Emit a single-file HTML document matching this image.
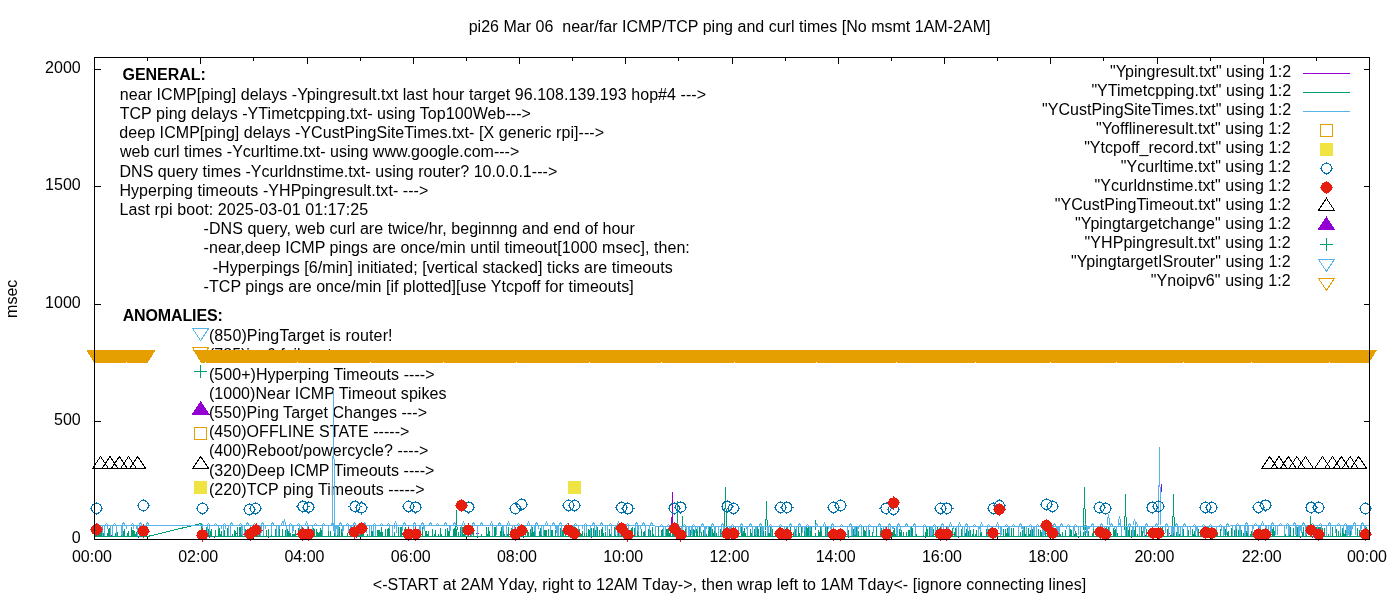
<!DOCTYPE html>
<html><head><meta charset="utf-8"><style>html,body{margin:0;padding:0;background:#fff;overflow:hidden}svg{display:block;will-change:transform}text{font-family:"Liberation Sans",sans-serif}</style></head>
<body>
<svg width="1400" height="600" viewBox="0 0 1400 600">
<rect width="1400" height="600" fill="#fff"/>
<g font-family="Liberation Sans, sans-serif" font-size="16" fill="#000">
<text x="468.65" y="32" xml:space="preserve" textLength="521.77" lengthAdjust="spacing">pi26 Mar 06  near/far ICMP/TCP ping and curl times [No msmt 1AM-2AM]</text>
<text x="122.56" y="80" font-weight="bold" textLength="83.17" lengthAdjust="spacing">GENERAL:</text>
<text x="119.78" y="99.7" textLength="586.2" lengthAdjust="spacing">near ICMP[ping] delays -Ypingresult.txt last hour target 96.108.139.193 hop#4 ---&gt;</text>
<text x="119.66" y="118.9" textLength="411.29" lengthAdjust="spacing">TCP ping delays -YTimetcpping.txt- using Top100Web---&gt;</text>
<text x="119.28" y="138.1" textLength="484.79" lengthAdjust="spacing">deep ICMP[ping] delays -YCustPingSiteTimes.txt- [X generic rpi]---&gt;</text>
<text x="119.97" y="157.3" textLength="399.28" lengthAdjust="spacing">web curl times -Ycurltime.txt- using www.google.com---&gt;</text>
<text x="119.45" y="176.5" textLength="437.8" lengthAdjust="spacing">DNS query times -Ycurldnstime.txt- using router? 10.0.0.1---&gt;</text>
<text x="119.45" y="195.7" textLength="308.85" lengthAdjust="spacing">Hyperping timeouts -YHPpingresult.txt- ---&gt;</text>
<text x="119.45" y="214.9" textLength="248.76" lengthAdjust="spacing">Last rpi boot: 2025-03-01 01:17:25</text>
<text x="203.6" y="234.1" textLength="431.14" lengthAdjust="spacing">-DNS query, web curl are twice/hr, beginnng and end of hour</text>
<text x="203.6" y="253.3" textLength="486.22" lengthAdjust="spacing">-near,deep ICMP pings are once/min until timeout[1000 msec], then:</text>
<text x="212.72" y="272.5" textLength="460.1" lengthAdjust="spacing">-Hyperpings [6/min] initiated; [vertical stacked] ticks are timeouts</text>
<text x="203.6" y="291.7" textLength="430.15" lengthAdjust="spacing">-TCP pings are once/min [if plotted][use Ytcpoff for timeouts]</text>
<text x="122.7" y="320.6" font-weight="bold" textLength="100.08" lengthAdjust="spacing">ANOMALIES:</text>
<text x="208.89" y="341.1" textLength="183.64" lengthAdjust="spacing">(850)PingTarget is router!</text>
<text x="209" y="360.3">(785)ipv6 fail: not ----&gt;</text>
<text x="208.89" y="379.5" textLength="225.6" lengthAdjust="spacing">(500+)Hyperping Timeouts ----&gt;</text>
<text x="208.89" y="398.7" textLength="237.52" lengthAdjust="spacing">(1000)Near ICMP Timeout spikes</text>
<text x="208.89" y="417.9" textLength="218.1" lengthAdjust="spacing">(550)Ping Target Changes ---&gt;</text>
<text x="208.89" y="437.1" textLength="200.53" lengthAdjust="spacing">(450)OFFLINE STATE -----&gt;</text>
<text x="208.89" y="456.3" textLength="219.54" lengthAdjust="spacing">(400)Reboot/powercycle? ----&gt;</text>
<text x="208.89" y="475.5" textLength="225.48" lengthAdjust="spacing">(320)Deep ICMP Timeouts ----&gt;</text>
<text x="208.89" y="494.7" textLength="215.71" lengthAdjust="spacing">(220)TCP ping Timeouts -----&gt;</text>
<text x="80.7" y="72.7" text-anchor="end">2000</text>
<text x="80.7" y="189.7" text-anchor="end">1500</text>
<text x="80.7" y="307.7" text-anchor="end">1000</text>
<text x="80.7" y="424.7" text-anchor="end">500</text>
<text x="80.7" y="542.7" text-anchor="end">0</text>
<text x="92.0" y="562" text-anchor="middle">00:00</text>
<text x="198.25" y="562" text-anchor="middle">02:00</text>
<text x="304.5" y="562" text-anchor="middle">04:00</text>
<text x="410.75" y="562" text-anchor="middle">06:00</text>
<text x="517.0" y="562" text-anchor="middle">08:00</text>
<text x="623.25" y="562" text-anchor="middle">10:00</text>
<text x="729.5" y="562" text-anchor="middle">12:00</text>
<text x="835.75" y="562" text-anchor="middle">14:00</text>
<text x="942.0" y="562" text-anchor="middle">16:00</text>
<text x="1048.25" y="562" text-anchor="middle">18:00</text>
<text x="1154.5" y="562" text-anchor="middle">20:00</text>
<text x="1261.75" y="562" text-anchor="middle">22:00</text>
<text x="1367.0" y="562" text-anchor="middle">00:00</text>
<text transform="translate(16.6,298.8) rotate(-90)" text-anchor="middle">msec</text>
<text x="372.78" y="589.7" textLength="713.35" lengthAdjust="spacing">&lt;-START at 2AM Yday, right to 12AM Tday-&gt;, then wrap left to 1AM Tday&lt;- [ignore connecting lines]</text>
</g>
<g font-family="Liberation Sans, sans-serif" font-size="16" fill="#000">
<text x="1291.08" y="77.2" text-anchor="end" textLength="181.13" lengthAdjust="spacing">"Ypingresult.txt" using 1:2</text>
<text x="1291.08" y="96.2" text-anchor="end" textLength="199.7" lengthAdjust="spacing">"YTimetcpping.txt" using 1:2</text>
<text x="1291.08" y="115.2" text-anchor="end" textLength="249.04" lengthAdjust="spacing">"YCustPingSiteTimes.txt" using 1:2</text>
<text x="1290.73" y="134.2" text-anchor="end" textLength="194.74" lengthAdjust="spacing">"Yofflineresult.txt" using 1:2</text>
<text x="1290.73" y="153.2" text-anchor="end" textLength="206.57" lengthAdjust="spacing">"Ytcpoff_record.txt" using 1:2</text>
<text x="1290.73" y="172.2" text-anchor="end" textLength="170.02" lengthAdjust="spacing">"Ycurltime.txt" using 1:2</text>
<text x="1290.73" y="191.2" text-anchor="end" textLength="196.16" lengthAdjust="spacing">"Ycurldnstime.txt" using 1:2</text>
<text x="1290.73" y="210.2" text-anchor="end" textLength="235.92" lengthAdjust="spacing">"YCustPingTimeout.txt" using 1:2</text>
<text x="1290.73" y="229.2" text-anchor="end" textLength="215.62" lengthAdjust="spacing">"Ypingtargetchange" using 1:2</text>
<text x="1290.73" y="248.2" text-anchor="end" textLength="206.16" lengthAdjust="spacing">"YHPpingresult.txt" using 1:2</text>
<text x="1290.73" y="267.2" text-anchor="end" textLength="219.66" lengthAdjust="spacing">"YpingtargetISrouter" using 1:2</text>
<text x="1290.73" y="286.2" text-anchor="end" textLength="140.01" lengthAdjust="spacing">"Ynoipv6" using 1:2</text>
</g>
<g shape-rendering="crispEdges">
<path d="M94.5 69.5h6M1369.5 69.5h-6M94.5 186.5h6M1369.5 186.5h-6M94.5 304.5h6M1369.5 304.5h-6M94.5 421.5h6M1369.5 421.5h-6M147.5 539.5v-3M147.5 57.5v3M200.5 539.5v-6M200.5 57.5v6M253.5 539.5v-3M253.5 57.5v3M307.5 539.5v-6M307.5 57.5v6M360.5 539.5v-3M360.5 57.5v3M413.5 539.5v-6M413.5 57.5v6M466.5 539.5v-3M466.5 57.5v3M519.5 539.5v-6M519.5 57.5v6M572.5 539.5v-3M572.5 57.5v3M625.5 539.5v-6M625.5 57.5v6M678.5 539.5v-3M678.5 57.5v3M732.5 539.5v-6M732.5 57.5v6M785.5 539.5v-3M785.5 57.5v3M838.5 539.5v-6M838.5 57.5v6M891.5 539.5v-3M891.5 57.5v3M944.5 539.5v-6M944.5 57.5v6M997.5 539.5v-3M997.5 57.5v3M1050.5 539.5v-6M1050.5 57.5v6M1103.5 539.5v-3M1103.5 57.5v3M1157.5 539.5v-6M1157.5 57.5v6M1210.5 539.5v-3M1210.5 57.5v3M1263.5 539.5v-6M1263.5 57.5v6M1316.5 539.5v-3M1316.5 57.5v3" stroke="#000" stroke-width="1" fill="none"/>
<path d="M1303 73.4h47" stroke="#9400d3" stroke-width="1"/><path d="M1303 92.4h47" stroke="#009e73" stroke-width="1"/><path d="M1303 111.4h47" stroke="#56b4e9" stroke-width="1"/><path d="M1320.5 124.4h12v12h-12Z" stroke="#e69f00" fill="none"/><path d="M1320.5 143.4h12v12h-12Z" fill="#f0e442" stroke="#f0e442"/><circle cx="1326.5" cy="168.4" r="5.1" stroke="#0072b2" stroke-width="1.1" fill="none"/><path d="M1319.9 168.4h1.6M1331.5 168.4h1.6M1326.5 161.8v1.6M1326.5 173.4v1.6" stroke="#0072b2"/><circle cx="1326.5" cy="187.4" r="5.6" fill="#e51e10"/><path d="M1319.9 187.4h1.6M1331.5 187.4h1.6M1326.5 180.8v1.6M1326.5 192.4v1.6" stroke="#e51e10"/><path d="M1318.5 210.4L1326.5 198.4L1334.5 210.4Z" stroke="#000" fill="none"/><path d="M1318.5 229.4L1326.5 217.4L1334.5 229.4Z" fill="#9400d3" stroke="#9400d3"/><path d="M1320.0 244.4h13M1326.5 237.9v13" stroke="#009e73"/><path d="M1318.5 259.4L1326.5 271.4L1334.5 259.4Z" stroke="#56b4e9" fill="none"/><path d="M1318.5 278.4L1326.5 290.4L1334.5 278.4Z" stroke="#e69f00" fill="none"/>
<path d="M192.6 328.6L200.6 340.6L208.6 328.6Z" stroke="#56b4e9" fill="none"/><path d="M192.6 347.6L200.6 359.6L208.6 347.6Z" stroke="#e69f00" fill="none"/><path d="M194.1 371.5h13M200.6 365v13" stroke="#009e73"/><path d="M192.6 414L200.6 402L208.6 414Z" fill="#9400d3" stroke="#9400d3"/><path d="M194.6 427.4h12v12h-12Z" stroke="#e69f00" fill="none"/><path d="M192.6 468.5L200.6 456.5L208.6 468.5Z" stroke="#000" fill="none"/><path d="M194.6 481.3h12v12h-12Z" fill="#f0e442" stroke="#f0e442"/><path d="M568.4 481.5h12v12h-12Z" fill="#f0e442" stroke="#f0e442"/>
<path d="M236 533h1v1h-1zM1227 536h1v1h-1zM939 537h1v1h-1zM394 533h1v1h-1zM1080 533h1v1h-1zM999 536h1v1h-1zM1139 536h1v1h-1zM857 536h1v1h-1zM1078 537h1v1h-1zM1131 537h1v1h-1zM204 535h1v1h-1zM848 537h1v1h-1zM111 535h1v1h-1zM1095 536h1v1h-1zM209 537h1v1h-1zM285 533h1v1h-1zM958 537h1v1h-1zM1109 537h1v1h-1zM356 537h1v1h-1zM968 536h1v1h-1zM1363 535h1v1h-1zM145 533h1v1h-1zM1086 536h1v1h-1zM1051 536h1v1h-1zM350 536h1v1h-1zM1170 535h1v1h-1zM214 537h1v1h-1zM837 535h1v1h-1zM951 535h1v1h-1zM268 537h1v1h-1zM1245 535h1v1h-1zM1153 533h1v1h-1zM306 535h1v1h-1zM1144 533h1v1h-1zM476 533h1v1h-1zM772 536h1v1h-1zM1050 537h1v1h-1zM402 533h1v1h-1zM678 537h1v1h-1zM1211 533h1v1h-1zM1249 536h1v1h-1zM594 535h1v1h-1zM1104 537h1v1h-1zM1145 535h1v1h-1zM1300 537h1v1h-1zM925 537h1v1h-1zM939 535h1v1h-1zM1103 536h1v1h-1zM478 533h1v1h-1zM118 536h1v1h-1zM1211 535h1v1h-1zM628 533h1v1h-1zM477 537h1v1h-1zM523 537h1v1h-1zM202 535h1v1h-1zM1169 533h1v1h-1zM138 537h1v1h-1zM209 537h1v1h-1zM335 535h1v1h-1zM614 533h1v1h-1zM1121 536h1v1h-1zM372 536h1v1h-1zM574 537h1v1h-1zM591 537h1v1h-1zM1312 537h1v1h-1zM309 537h1v1h-1zM1226 533h1v1h-1zM1216 535h1v1h-1z" fill="#9400d3"/>
<path d="M671.90 530L672.5 492L673.10 530" stroke="#9400d3" fill="none" stroke-linejoin="bevel"/><path d="M671.00 530L671.5 517L672.00 530" stroke="#9400d3" fill="none" stroke-linejoin="bevel"/><path d="M1161.20 492L1161.5 484L1161.80 492" stroke="#9400d3" fill="none" stroke-linejoin="bevel"/>
<path d="M94.5 536.5H147.5L201 523.5V536.5H1369.5M95.5 536V528M96.5 536V527M97.5 536V532M98.5 536V533M99.5 536V532M100.5 536V527M101.5 536V527M102.5 536V532M103.5 536V533M104.5 536V529M107.5 536V533M108.5 536V529M109.5 536V528M110.5 536V528M115.5 536V533M117.5 536V532M121.5 536V532M122.5 536V530M123.5 536V531M124.5 536V529M127.5 536V533M128.5 536V531M131.5 536V527M132.5 536V530M133.5 536V530M134.5 536V531M135.5 536V534M136.5 536V532M139.5 536V530M142.5 536V527M144.5 536V534M145.5 536V529M202.5 536V530M204.5 536V531M205.5 536V533M206.5 536V527M207.5 536V529M208.5 536V529M209.5 536V531M210.5 536V531M211.5 536V529M215.5 536V530M218.5 536V529M219.5 536V528M220.5 536V534M221.5 536V531M223.5 536V529M224.5 536V530M227.5 536V528M232.5 536V534M234.5 536V530M235.5 536V531M237.5 536V527M239.5 536V527M240.5 536V527M241.5 536V533M242.5 536V527M245.5 536V529M247.5 536V529M250.5 536V527M253.5 536V531M254.5 536V528M255.5 536V530M257.5 536V528M259.5 536V532M260.5 536V532M263.5 536V534M266.5 536V530M268.5 536V529M271.5 536V529M275.5 536V529M278.5 536V532M279.5 536V527M282.5 536V529M285.5 536V530M287.5 536V529M288.5 536V531M289.5 536V529M290.5 536V533M292.5 536V534M293.5 536V534M294.5 536V534M295.5 536V530M298.5 536V528M299.5 536V534M300.5 536V530M301.5 536V527M303.5 536V528M304.5 536V533M307.5 536V533M310.5 536V532M312.5 536V534M313.5 536V528M314.5 536V529M316.5 536V529M317.5 536V532M318.5 536V533M319.5 536V532M320.5 536V528M321.5 536V530M328.5 536V528M330.5 536V531M334.5 536V528M335.5 536V527M337.5 536V532M339.5 536V527M341.5 536V529M342.5 536V527M347.5 536V533M350.5 536V529M351.5 536V532M354.5 536V532M357.5 536V532M359.5 536V531M360.5 536V527M361.5 536V530M362.5 536V529M363.5 536V529M367.5 536V534M369.5 536V528M371.5 536V527M372.5 536V531M373.5 536V534M375.5 536V530M377.5 536V530M378.5 536V530M379.5 536V530M380.5 536V532M381.5 536V527M382.5 536V532M385.5 536V529M387.5 536V529M388.5 536V528M389.5 536V528M394.5 536V532M398.5 536V527M400.5 536V527M401.5 536V527M404.5 536V529M405.5 536V527M406.5 536V530M408.5 536V529M410.5 536V529M413.5 536V528M414.5 536V529M417.5 536V531M419.5 536V530M422.5 536V527M425.5 536V531M426.5 536V531M427.5 536V534M428.5 536V531M432.5 536V529M434.5 536V534M435.5 536V530M438.5 536V534M440.5 536V528M441.5 536V534M445.5 536V529M447.5 536V528M448.5 536V531M449.5 536V530M453.5 536V529M454.5 536V528M455.5 536V530M456.5 536V529M458.5 536V532M460.5 536V527M461.5 536V533M462.5 536V527M463.5 536V534M464.5 536V533M467.5 536V533M468.5 536V530M470.5 536V529M473.5 536V532M477.5 536V532M481.5 536V534M486.5 536V527M487.5 536V534M488.5 536V527M489.5 536V531M494.5 536V527M495.5 536V527M500.5 536V531M501.5 536V527M503.5 536V529M504.5 536V534M506.5 536V530M507.5 536V534M508.5 536V527M511.5 536V528M512.5 536V534M514.5 536V533M515.5 536V531M516.5 536V529M518.5 536V529M520.5 536V532M521.5 536V531M522.5 536V527M525.5 536V527M527.5 536V531M528.5 536V532M530.5 536V529M531.5 536V529M532.5 536V527M533.5 536V532M534.5 536V530M535.5 536V534M539.5 536V531M540.5 536V528M541.5 536V531M543.5 536V528M544.5 536V530M545.5 536V530M546.5 536V530M548.5 536V529M551.5 536V530M552.5 536V530M555.5 536V530M558.5 536V527M560.5 536V528M561.5 536V529M562.5 536V530M563.5 536V530M565.5 536V527M572.5 536V530M573.5 536V528M575.5 536V527M578.5 536V530M579.5 536V529M580.5 536V534M581.5 536V534M582.5 536V531M584.5 536V528M586.5 536V532M588.5 536V529M589.5 536V530M591.5 536V528M593.5 536V528M594.5 536V527M595.5 536V530M596.5 536V533M597.5 536V527M599.5 536V530M601.5 536V529M602.5 536V527M603.5 536V533M605.5 536V532M609.5 536V529M610.5 536V534M611.5 536V529M614.5 536V527M615.5 536V531M617.5 536V527M618.5 536V532M621.5 536V527M622.5 536V528M629.5 536V532M631.5 536V528M632.5 536V527M634.5 536V528M637.5 536V527M638.5 536V529M641.5 536V529M643.5 536V532M644.5 536V531M645.5 536V530M648.5 536V529M650.5 536V530M652.5 536V527M653.5 536V534M655.5 536V529M658.5 536V527M661.5 536V530M662.5 536V529M665.5 536V529M666.5 536V529M667.5 536V529M668.5 536V529M669.5 536V533M670.5 536V528M672.5 536V534M673.5 536V533M674.5 536V530M675.5 536V527M677.5 536V527M679.5 536V531M685.5 536V528M688.5 536V529M690.5 536V530M692.5 536V527M693.5 536V529M694.5 536V530M696.5 536V529M697.5 536V529M699.5 536V527M701.5 536V532M703.5 536V530M705.5 536V534M706.5 536V534M708.5 536V527M709.5 536V527M710.5 536V527M712.5 536V529M713.5 536V533M714.5 536V530M716.5 536V533M720.5 536V529M721.5 536V531M723.5 536V529M726.5 536V531M727.5 536V529M731.5 536V530M732.5 536V533M733.5 536V529M734.5 536V528M735.5 536V527M737.5 536V532M738.5 536V530M741.5 536V527M742.5 536V530M743.5 536V531M744.5 536V528M745.5 536V533M747.5 536V532M750.5 536V529M751.5 536V533M752.5 536V529M754.5 536V529M755.5 536V529M756.5 536V533M757.5 536V527M758.5 536V529M760.5 536V527M763.5 536V531M765.5 536V531M767.5 536V529M768.5 536V527M769.5 536V533M770.5 536V527M771.5 536V528M772.5 536V529M775.5 536V534M778.5 536V530M779.5 536V527M780.5 536V529M781.5 536V534M785.5 536V530M786.5 536V529M787.5 536V527M790.5 536V527M793.5 536V532M794.5 536V528M795.5 536V529M796.5 536V529M798.5 536V527M799.5 536V533M801.5 536V527M804.5 536V529M805.5 536V530M806.5 536V527M807.5 536V528M808.5 536V527M809.5 536V530M810.5 536V528M811.5 536V527M815.5 536V533M818.5 536V530M819.5 536V532M820.5 536V527M821.5 536V531M825.5 536V527M827.5 536V527M830.5 536V533M837.5 536V531M838.5 536V529M839.5 536V532M840.5 536V530M841.5 536V529M844.5 536V532M848.5 536V530M852.5 536V530M853.5 536V529M854.5 536V534M855.5 536V532M856.5 536V527M857.5 536V531M858.5 536V531M861.5 536V528M863.5 536V527M864.5 536V530M865.5 536V531M868.5 536V528M869.5 536V530M872.5 536V532M876.5 536V527M880.5 536V531M881.5 536V528M884.5 536V530M886.5 536V530M888.5 536V531M889.5 536V532M891.5 536V533M892.5 536V532M893.5 536V530M894.5 536V528M895.5 536V534M899.5 536V529M900.5 536V532M901.5 536V530M903.5 536V532M906.5 536V532M908.5 536V530M909.5 536V530M911.5 536V527M912.5 536V528M915.5 536V532M916.5 536V534M923.5 536V529M925.5 536V532M926.5 536V527M927.5 536V529M929.5 536V527M930.5 536V530M931.5 536V532M932.5 536V529M933.5 536V529M935.5 536V533M937.5 536V527M939.5 536V528M940.5 536V527M944.5 536V529M946.5 536V532M952.5 536V528M954.5 536V532M955.5 536V528M956.5 536V527M958.5 536V533M961.5 536V529M965.5 536V533M966.5 536V529M967.5 536V534M968.5 536V531M970.5 536V530M972.5 536V534M973.5 536V529M975.5 536V534M976.5 536V530M980.5 536V527M981.5 536V532M986.5 536V529M987.5 536V532M988.5 536V529M991.5 536V528M993.5 536V530M994.5 536V529M995.5 536V534M1000.5 536V532M1003.5 536V529M1005.5 536V529M1006.5 536V533M1007.5 536V528M1008.5 536V527M1009.5 536V533M1011.5 536V528M1013.5 536V528M1018.5 536V533M1020.5 536V532M1022.5 536V530M1023.5 536V529M1024.5 536V527M1025.5 536V534M1026.5 536V534M1028.5 536V528M1029.5 536V534M1030.5 536V530M1031.5 536V529M1032.5 536V529M1034.5 536V530M1038.5 536V529M1040.5 536V530M1041.5 536V532M1043.5 536V527M1045.5 536V527M1047.5 536V530M1048.5 536V529M1049.5 536V527M1050.5 536V531M1051.5 536V528M1057.5 536V529M1059.5 536V528M1060.5 536V534M1062.5 536V532M1065.5 536V530M1069.5 536V534M1070.5 536V529M1071.5 536V530M1074.5 536V534M1075.5 536V531M1076.5 536V533M1080.5 536V530M1083.5 536V532M1085.5 536V531M1087.5 536V529M1088.5 536V531M1092.5 536V533M1093.5 536V528M1097.5 536V529M1098.5 536V529M1099.5 536V527M1100.5 536V534M1101.5 536V530M1102.5 536V528M1105.5 536V529M1106.5 536V527M1107.5 536V530M1108.5 536V527M1109.5 536V530M1113.5 536V528M1114.5 536V530M1115.5 536V529M1117.5 536V533M1126.5 536V528M1128.5 536V530M1129.5 536V527M1131.5 536V530M1134.5 536V530M1135.5 536V527M1137.5 536V534M1141.5 536V527M1142.5 536V531M1144.5 536V529M1146.5 536V529M1148.5 536V533M1149.5 536V529M1155.5 536V531M1156.5 536V534M1157.5 536V532M1159.5 536V533M1160.5 536V527M1161.5 536V530M1162.5 536V527M1163.5 536V530M1167.5 536V529M1171.5 536V530M1172.5 536V528M1173.5 536V527M1176.5 536V532M1179.5 536V534M1183.5 536V529M1187.5 536V529M1188.5 536V530M1192.5 536V529M1193.5 536V534M1194.5 536V531M1195.5 536V533M1198.5 536V529M1200.5 536V533M1203.5 536V530M1205.5 536V527M1206.5 536V527M1208.5 536V527M1211.5 536V531M1212.5 536V528M1213.5 536V530M1215.5 536V533M1217.5 536V532M1220.5 536V529M1223.5 536V527M1225.5 536V529M1227.5 536V532M1228.5 536V531M1231.5 536V528M1234.5 536V530M1235.5 536V533M1236.5 536V529M1238.5 536V530M1241.5 536V530M1243.5 536V533M1244.5 536V530M1246.5 536V531M1247.5 536V528M1248.5 536V530M1250.5 536V534M1251.5 536V531M1255.5 536V530M1256.5 536V532M1257.5 536V529M1258.5 536V531M1259.5 536V532M1262.5 536V529M1265.5 536V530M1267.5 536V534M1268.5 536V527M1269.5 536V532M1272.5 536V529M1273.5 536V527M1274.5 536V531M1285.5 536V534M1288.5 536V534M1289.5 536V527M1290.5 536V527M1293.5 536V528M1296.5 536V529M1297.5 536V527M1298.5 536V530M1302.5 536V532M1303.5 536V527M1305.5 536V530M1306.5 536V527M1311.5 536V530M1313.5 536V531M1314.5 536V528M1316.5 536V527M1318.5 536V527M1319.5 536V527M1320.5 536V527M1321.5 536V533M1322.5 536V528M1324.5 536V528M1326.5 536V534M1328.5 536V534M1330.5 536V527M1332.5 536V527M1336.5 536V529M1338.5 536V531M1340.5 536V533M1342.5 536V528M1343.5 536V527M1344.5 536V534M1345.5 536V530M1346.5 536V531M1350.5 536V527M1357.5 536V528M1359.5 536V530M1361.5 536V530M1366.5 536V527M1367.5 536V529M1368.5 536V533" stroke="#009e73" stroke-width="1" fill="none"/>
<path d="M676.90 530L677.5 501L678.10 530" stroke="#009e73" fill="none" stroke-linejoin="bevel"/><path d="M682.00 530L682.5 516L683.00 530" stroke="#009e73" fill="none" stroke-linejoin="bevel"/><path d="M724.50 530L725.5 487L726.50 530" stroke="#009e73" fill="none" stroke-linejoin="bevel"/><path d="M765.70 530L766.5 501L767.30 530" stroke="#009e73" fill="none" stroke-linejoin="bevel"/><path d="M815.00 530L815.5 520L816.00 530" stroke="#009e73" fill="none" stroke-linejoin="bevel"/><path d="M1083.50 530L1084.5 487L1085.50 530" stroke="#009e73" fill="none" stroke-linejoin="bevel"/><path d="M1124.70 530L1125.5 494L1126.30 530" stroke="#009e73" fill="none" stroke-linejoin="bevel"/><path d="M1172.70 530L1173.5 494L1174.30 530" stroke="#009e73" fill="none" stroke-linejoin="bevel"/><path d="M455.90 530L456.5 510L457.10 530" stroke="#009e73" fill="none" stroke-linejoin="bevel"/><path d="M1309.90 530L1310.5 516L1311.10 530" stroke="#009e73" fill="none" stroke-linejoin="bevel"/>
<path d="M94.5 525.5H655M655 526.5H1230M1230 525.5H1369.5M96 525.5L97.5 523.5L99 525.5M102.5 525V536M104.5 525V536M105 525.5L106.5 523.5L108 525.5M107.5 525V529M110.5 525V536M112.5 525V536M113 525.5L114.5 523.5L116 525.5M116.5 525V536M121.5 525V535M122.5 525V536M122 525.5L123.5 522.5L125 525.5M126.5 525V529M131 525.5L132.5 523.5L134 525.5M133.5 525V529M136.5 525V529M137.5 525V536M139.5 525V536M139 525.5L140.5 522.5L142 525.5M145.5 525V529M146.5 525V533M146 525.5L147.5 522.5L149 525.5M200 525.5L201.5 523.5L203 525.5M202.5 525V536M207.5 525V536M207 525.5L208.5 523.5L210 525.5M209.5 525V535M214 525.5L215.5 523.5L217 525.5M218.5 525V529M221.5 525V529M223.5 525V536M223 525.5L224.5 523.5L226 525.5M225.5 525V529M228.5 525V536M230.5 525V536M230 525.5L231.5 522.5L233 525.5M239 525.5L240.5 523.5L242 525.5M241.5 525V535M242.5 525V536M244.5 525V536M246 525.5L247.5 522.5L249 525.5M250.5 525V535M253.5 525V535M253 525.5L254.5 523.5L256 525.5M257.5 525V533M258.5 525V536M259.5 525V529M260.5 525V536M261.5 525V533M261 525.5L262.5 522.5L264 525.5M263.5 525V536M265.5 525V529M271.5 525V535M271 525.5L272.5 522.5L274 525.5M276.5 525V536M278.5 525V536M279.5 525V529M281 525.5L282.5 521.5L284 525.5M286.5 525V536M289.5 525V533M289 525.5L290.5 523.5L292 525.5M292.5 525V533M293.5 525V531M297 525.5L298.5 523.5L300 525.5M299.5 525V535M301.5 525V531M305 525.5L306.5 521.5L308 525.5M307.5 525V536M308.5 525V536M312.5 525V533M314 525.5L315.5 523.5L317 525.5M322.5 525V536M322 525.5L323.5 523.5L325 525.5M328.5 525V531M331 525.5L332.5 521.5L334 525.5M333.5 525V531M334.5 525V533M335.5 525V536M336.5 525V529M337.5 525V535M338.5 525V536M339 525.5L340.5 522.5L342 525.5M342.5 525V533M343.5 525V531M346 525.5L347.5 523.5L349 525.5M348.5 525V533M350.5 525V535M351.5 525V536M353.5 525V529M353 525.5L354.5 522.5L356 525.5M357.5 525V529M359.5 525V535M363 525.5L364.5 522.5L366 525.5M366.5 525V533M369.5 525V536M371.5 525V531M373.5 525V536M373 525.5L374.5 523.5L376 525.5M375.5 525V536M380 525.5L381.5 523.5L383 525.5M387 525.5L388.5 523.5L390 525.5M389.5 525V529M392.5 525V536M394.5 525V529M394 525.5L395.5 521.5L397 525.5M396.5 525V533M402.5 525V531M403 525.5L404.5 522.5L406 525.5M408.5 525V536M413.5 525V535M413 525.5L414.5 522.5L416 525.5M415.5 525V536M419.5 525V535M420.5 525V536M421 525.5L422.5 522.5L424 525.5M423.5 525V529M424.5 525V531M429 525.5L430.5 522.5L432 525.5M436 525.5L437.5 523.5L439 525.5M444 525.5L445.5 522.5L447 525.5M449.5 525V531M450.5 525V531M453 525.5L454.5 522.5L456 525.5M461.5 525V536M462 525.5L463.5 521.5L465 525.5M465.5 525V536M467.5 525V536M471.5 525V536M472.5 525V535M472 525.5L473.5 522.5L475 525.5M477.5 525V536M480 525.5L481.5 522.5L483 525.5M490 525.5L491.5 521.5L493 525.5M492.5 525V536M496.5 525V535M498 525.5L499.5 522.5L501 525.5M502.5 525V536M503.5 525V531M506.5 525V536M507 525.5L508.5 521.5L510 525.5M512.5 525V535M514.5 525V531M517 525.5L518.5 523.5L520 525.5M519.5 525V529M520.5 525V529M523.5 525V529M525.5 525V536M527 525.5L528.5 521.5L530 525.5M531.5 525V533M534.5 525V531M535.5 525V536M535 525.5L536.5 522.5L538 525.5M538.5 525V529M541.5 525V535M543.5 525V536M545 525.5L546.5 521.5L548 525.5M550.5 525V536M552 525.5L553.5 522.5L555 525.5M555.5 525V529M556.5 525V533M557.5 525V536M558.5 525V536M559 525.5L560.5 522.5L562 525.5M561.5 525V536M566 525.5L567.5 523.5L569 525.5M568.5 525V533M570.5 525V536M573.5 525V536M574.5 525V531M574 525.5L575.5 523.5L577 525.5M578.5 525V535M582.5 525V529M584.5 525V533M584 525.5L585.5 523.5L587 525.5M586.5 525V533M590.5 525V536M592 525.5L593.5 522.5L595 525.5M594.5 525V536M596.5 525V536M600 525.5L601.5 522.5L603 525.5M605.5 525V531M607.5 525V536M609 525.5L610.5 523.5L612 525.5M611.5 525V536M615.5 525V535M617.5 525V536M617 525.5L618.5 521.5L620 525.5M619.5 525V536M620.5 525V536M621.5 525V536M622.5 525V536M626 525.5L627.5 523.5L629 525.5M628.5 525V536M635.5 525V536M635 525.5L636.5 522.5L638 525.5M637.5 525V531M638.5 525V535M640.5 525V529M642 525.5L643.5 522.5L645 525.5M645.5 525V536M649.5 525V536M650 525.5L651.5 522.5L653 525.5M655.5 526V536M660 526.5L661.5 524.5L663 526.5M663.5 526V536M665.5 526V536M667 526.5L668.5 524.5L670 526.5M676 526.5L677.5 523.5L679 526.5M679.5 526V533M681.5 526V536M682.5 526V533M683 526.5L684.5 524.5L686 526.5M685.5 526V529M686.5 526V536M688.5 526V536M689.5 526V536M691.5 526V535M692.5 526V536M692 526.5L693.5 524.5L695 526.5M695.5 526V533M697.5 526V531M700.5 526V533M701 526.5L702.5 523.5L704 526.5M704.5 526V536M705.5 526V536M706.5 526V529M708.5 526V531M711.5 526V536M711 526.5L712.5 523.5L714 526.5M714.5 526V531M715.5 526V536M718.5 526V536M721.5 526V536M721 526.5L722.5 523.5L724 526.5M723.5 526V536M724.5 526V531M729.5 526V535M730.5 526V529M731.5 526V536M731 526.5L732.5 524.5L734 526.5M738.5 526V536M740.5 526V533M740 526.5L741.5 523.5L743 526.5M742.5 526V533M746.5 526V529M747.5 526V536M749 526.5L750.5 523.5L752 526.5M752.5 526V536M755.5 526V535M756.5 526V536M759 526.5L760.5 523.5L762 526.5M761.5 526V536M762.5 526V536M763.5 526V531M767.5 526V536M768.5 526V533M769 526.5L770.5 524.5L772 526.5M771.5 526V536M779 526.5L780.5 524.5L782 526.5M784.5 526V536M786.5 526V536M789 526.5L790.5 523.5L792 526.5M794.5 526V536M796.5 526V536M798 526.5L799.5 523.5L801 526.5M802.5 526V533M804.5 526V531M805.5 526V536M806 526.5L807.5 524.5L809 526.5M809.5 526V536M810.5 526V531M815 526.5L816.5 523.5L818 526.5M821.5 526V531M823 526.5L824.5 522.5L826 526.5M826.5 526V536M828.5 526V529M830.5 526V529M831.5 526V535M831 526.5L832.5 523.5L834 526.5M833.5 526V533M840 526.5L841.5 524.5L843 526.5M847.5 526V536M849 526.5L850.5 523.5L852 526.5M851.5 526V536M852.5 526V536M854.5 526V535M855.5 526V535M857.5 526V536M858.5 526V529M859 526.5L860.5 524.5L862 526.5M861.5 526V536M866.5 526V536M868.5 526V536M868 526.5L869.5 524.5L871 526.5M873.5 526V533M878 526.5L879.5 523.5L881 526.5M880.5 526V531M883.5 526V533M885.5 526V533M888.5 526V536M888 526.5L889.5 523.5L891 526.5M890.5 526V536M892.5 526V529M893.5 526V529M896.5 526V536M897.5 526V536M897 526.5L898.5 523.5L900 526.5M900.5 526V531M905 526.5L906.5 523.5L908 526.5M910.5 526V536M913 526.5L914.5 523.5L916 526.5M915.5 526V536M923.5 526V535M923 526.5L924.5 524.5L926 526.5M930.5 526V536M931.5 526V536M932.5 526V535M933 526.5L934.5 524.5L936 526.5M935.5 526V536M941.5 526V536M941 526.5L942.5 523.5L944 526.5M943.5 526V536M947.5 526V529M948.5 526V536M949 526.5L950.5 522.5L952 526.5M953.5 526V529M956.5 526V536M958.5 526V536M958 526.5L959.5 522.5L961 526.5M962.5 526V536M964.5 526V536M965 526.5L966.5 523.5L968 526.5M967.5 526V536M969.5 526V536M973 526.5L974.5 524.5L976 526.5M978.5 526V536M979.5 526V529M980.5 526V533M980 526.5L981.5 522.5L983 526.5M987.5 526V536M987 526.5L988.5 524.5L990 526.5M991.5 526V536M996 526.5L997.5 522.5L999 526.5M998.5 526V529M1000.5 526V536M1001.5 526V535M1005 526.5L1006.5 524.5L1008 526.5M1008.5 526V533M1009.5 526V536M1012 526.5L1013.5 524.5L1015 526.5M1018.5 526V536M1019 526.5L1020.5 523.5L1022 526.5M1021.5 526V529M1022.5 526V529M1023.5 526V536M1026.5 526V536M1029 526.5L1030.5 524.5L1032 526.5M1031.5 526V536M1033.5 526V536M1034.5 526V536M1036.5 526V536M1036 526.5L1037.5 524.5L1039 526.5M1042.5 526V536M1043.5 526V536M1044.5 526V535M1044 526.5L1045.5 524.5L1047 526.5M1051.5 526V536M1052.5 526V536M1053.5 526V533M1053 526.5L1054.5 523.5L1056 526.5M1056.5 526V529M1057.5 526V536M1058.5 526V536M1059.5 526V533M1060 526.5L1061.5 523.5L1063 526.5M1066.5 526V529M1067 526.5L1068.5 524.5L1070 526.5M1069.5 526V535M1073.5 526V536M1074.5 526V531M1074 526.5L1075.5 524.5L1077 526.5M1078.5 526V535M1080.5 526V531M1084.5 526V535M1084 526.5L1085.5 524.5L1087 526.5M1086.5 526V533M1087.5 526V536M1088.5 526V529M1089.5 526V529M1091 526.5L1092.5 523.5L1094 526.5M1093.5 526V529M1100 526.5L1101.5 523.5L1103 526.5M1102.5 526V536M1104.5 526V536M1109.5 526V536M1110 526.5L1111.5 523.5L1113 526.5M1114.5 526V529M1116.5 526V536M1118 526.5L1119.5 523.5L1121 526.5M1121.5 526V536M1125.5 526V536M1127.5 526V536M1128 526.5L1129.5 523.5L1131 526.5M1132.5 526V536M1133.5 526V536M1135 526.5L1136.5 522.5L1138 526.5M1139.5 526V536M1143.5 526V533M1144.5 526V536M1145.5 526V529M1145 526.5L1146.5 523.5L1148 526.5M1155 526.5L1156.5 523.5L1158 526.5M1158.5 526V536M1165.5 526V533M1165 526.5L1166.5 523.5L1168 526.5M1168.5 526V536M1171.5 526V535M1172.5 526V536M1173.5 526V533M1174.5 526V536M1175 526.5L1176.5 523.5L1178 526.5M1177.5 526V536M1178.5 526V536M1180.5 526V536M1182.5 526V536M1183 526.5L1184.5 523.5L1186 526.5M1187.5 526V536M1190.5 526V535M1193 526.5L1194.5 524.5L1196 526.5M1195.5 526V535M1196.5 526V531M1197.5 526V536M1202 526.5L1203.5 524.5L1205 526.5M1209 526.5L1210.5 524.5L1212 526.5M1212.5 526V529M1216.5 526V536M1219 526.5L1220.5 524.5L1222 526.5M1221.5 526V531M1223.5 526V536M1224.5 526V535M1226.5 526V535M1226 526.5L1227.5 523.5L1229 526.5M1232.5 525V536M1235.5 525V536M1236.5 525V529M1236 525.5L1237.5 523.5L1239 525.5M1239.5 525V536M1240.5 525V536M1244.5 525V536M1245.5 525V536M1245 525.5L1246.5 522.5L1248 525.5M1247.5 525V533M1248.5 525V536M1252.5 525V536M1253.5 525V529M1254 525.5L1255.5 523.5L1257 525.5M1258.5 525V536M1259.5 525V536M1260.5 525V535M1261 525.5L1262.5 521.5L1264 525.5M1265.5 525V535M1266.5 525V536M1268.5 525V533M1270.5 525V536M1271.5 525V533M1271 525.5L1272.5 522.5L1274 525.5M1275.5 525V535M1277.5 525V535M1279 525.5L1280.5 523.5L1282 525.5M1284.5 525V536M1286.5 525V529M1286 525.5L1287.5 523.5L1289 525.5M1288.5 525V536M1289.5 525V535M1293 525.5L1294.5 522.5L1296 525.5M1295.5 525V535M1296.5 525V535M1298.5 525V536M1299.5 525V536M1300.5 525V531M1301.5 525V533M1302 525.5L1303.5 522.5L1305 525.5M1305.5 525V536M1306.5 525V535M1310.5 525V536M1311.5 525V536M1311 525.5L1312.5 523.5L1314 525.5M1317.5 525V533M1319 525.5L1320.5 523.5L1322 525.5M1321.5 525V531M1326.5 525V536M1328 525.5L1329.5 522.5L1331 525.5M1330.5 525V536M1335.5 525V533M1337 525.5L1338.5 523.5L1340 525.5M1340.5 525V533M1343.5 525V533M1344 525.5L1345.5 523.5L1347 525.5M1346.5 525V536M1347.5 525V536M1348.5 525V535M1349.5 525V536M1350.5 525V531M1351.5 525V535M1352.5 525V529M1353 525.5L1354.5 522.5L1356 525.5M1355.5 525V535M1360.5 525V531M1361.5 525V529M1361 525.5L1362.5 522.5L1364 525.5M1364.5 525V533M1365.5 525V536" stroke="#56b4e9" stroke-width="1" fill="none" stroke-linejoin="bevel"/>
<path d="M332.50 525L333.5 390L334.50 525" stroke="#56b4e9" fill="none" stroke-linejoin="bevel"/><path d="M1158.50 525L1159.5 447L1160.50 525" stroke="#56b4e9" fill="none" stroke-linejoin="bevel"/><path d="M1107.00 525L1108.5 514L1110.00 525" stroke="#56b4e9" fill="none" stroke-linejoin="bevel"/><path d="M1118.00 525L1119.5 516L1121.00 525" stroke="#56b4e9" fill="none" stroke-linejoin="bevel"/><path d="M1133.00 525L1134.5 519L1136.00 525" stroke="#56b4e9" fill="none" stroke-linejoin="bevel"/><path d="M283.30 525L284.5 519L285.70 525" stroke="#56b4e9" fill="none" stroke-linejoin="bevel"/>
<circle cx="96.5" cy="508.3" r="5.1" stroke="#0072b2" stroke-width="1.1" fill="none"/><circle cx="143.4" cy="505.6" r="5.1" stroke="#0072b2" stroke-width="1.1" fill="none"/><circle cx="202.4" cy="508.3" r="5.1" stroke="#0072b2" stroke-width="1.1" fill="none"/><circle cx="249.3" cy="509.5" r="5.1" stroke="#0072b2" stroke-width="1.1" fill="none"/><circle cx="255.4" cy="508.3" r="5.1" stroke="#0072b2" stroke-width="1.1" fill="none"/><circle cx="302.9" cy="506.4" r="5.1" stroke="#0072b2" stroke-width="1.1" fill="none"/><circle cx="308.6" cy="507.1" r="5.1" stroke="#0072b2" stroke-width="1.1" fill="none"/><circle cx="355" cy="506.4" r="5.1" stroke="#0072b2" stroke-width="1.1" fill="none"/><circle cx="361.4" cy="507.9" r="5.1" stroke="#0072b2" stroke-width="1.1" fill="none"/><circle cx="408.6" cy="506.4" r="5.1" stroke="#0072b2" stroke-width="1.1" fill="none"/><circle cx="415.7" cy="507.1" r="5.1" stroke="#0072b2" stroke-width="1.1" fill="none"/><circle cx="461.4" cy="505.4" r="5.1" stroke="#0072b2" stroke-width="1.1" fill="none"/><circle cx="468.6" cy="507.1" r="5.1" stroke="#0072b2" stroke-width="1.1" fill="none"/><circle cx="515.4" cy="508.6" r="5.1" stroke="#0072b2" stroke-width="1.1" fill="none"/><circle cx="521.7" cy="504.3" r="5.1" stroke="#0072b2" stroke-width="1.1" fill="none"/><circle cx="568.6" cy="505.4" r="5.1" stroke="#0072b2" stroke-width="1.1" fill="none"/><circle cx="574.6" cy="505.4" r="5.1" stroke="#0072b2" stroke-width="1.1" fill="none"/><circle cx="621.7" cy="507.6" r="5.1" stroke="#0072b2" stroke-width="1.1" fill="none"/><circle cx="627.9" cy="508.6" r="5.1" stroke="#0072b2" stroke-width="1.1" fill="none"/><circle cx="674.3" cy="508.3" r="5.1" stroke="#0072b2" stroke-width="1.1" fill="none"/><circle cx="680.7" cy="507.1" r="5.1" stroke="#0072b2" stroke-width="1.1" fill="none"/><circle cx="727.1" cy="506.4" r="5.1" stroke="#0072b2" stroke-width="1.1" fill="none"/><circle cx="733.6" cy="508.3" r="5.1" stroke="#0072b2" stroke-width="1.1" fill="none"/><circle cx="780.7" cy="507.4" r="5.1" stroke="#0072b2" stroke-width="1.1" fill="none"/><circle cx="786.9" cy="507.4" r="5.1" stroke="#0072b2" stroke-width="1.1" fill="none"/><circle cx="833.6" cy="507.4" r="5.1" stroke="#0072b2" stroke-width="1.1" fill="none"/><circle cx="840.7" cy="505.4" r="5.1" stroke="#0072b2" stroke-width="1.1" fill="none"/><circle cx="886" cy="508.3" r="5.1" stroke="#0072b2" stroke-width="1.1" fill="none"/><circle cx="893.6" cy="509.3" r="5.1" stroke="#0072b2" stroke-width="1.1" fill="none"/><circle cx="940.7" cy="508.3" r="5.1" stroke="#0072b2" stroke-width="1.1" fill="none"/><circle cx="946.9" cy="508.3" r="5.1" stroke="#0072b2" stroke-width="1.1" fill="none"/><circle cx="993.6" cy="508.3" r="5.1" stroke="#0072b2" stroke-width="1.1" fill="none"/><circle cx="999.3" cy="505.7" r="5.1" stroke="#0072b2" stroke-width="1.1" fill="none"/><circle cx="1046.4" cy="504.3" r="5.1" stroke="#0072b2" stroke-width="1.1" fill="none"/><circle cx="1052.6" cy="506.4" r="5.1" stroke="#0072b2" stroke-width="1.1" fill="none"/><circle cx="1099.3" cy="507.4" r="5.1" stroke="#0072b2" stroke-width="1.1" fill="none"/><circle cx="1105.7" cy="508.6" r="5.1" stroke="#0072b2" stroke-width="1.1" fill="none"/><circle cx="1152.1" cy="507.4" r="5.1" stroke="#0072b2" stroke-width="1.1" fill="none"/><circle cx="1158.6" cy="506.4" r="5.1" stroke="#0072b2" stroke-width="1.1" fill="none"/><circle cx="1205.5" cy="507.4" r="5.1" stroke="#0072b2" stroke-width="1.1" fill="none"/><circle cx="1211.7" cy="507.4" r="5.1" stroke="#0072b2" stroke-width="1.1" fill="none"/><circle cx="1258.6" cy="507.4" r="5.1" stroke="#0072b2" stroke-width="1.1" fill="none"/><circle cx="1265.6" cy="505.1" r="5.1" stroke="#0072b2" stroke-width="1.1" fill="none"/><circle cx="1311.1" cy="507.4" r="5.1" stroke="#0072b2" stroke-width="1.1" fill="none"/><circle cx="1318.7" cy="507.4" r="5.1" stroke="#0072b2" stroke-width="1.1" fill="none"/><circle cx="1365.4" cy="508.6" r="5.1" stroke="#0072b2" stroke-width="1.1" fill="none"/>
<path d="M89.9 508.3h1.6M101.5 508.3h1.6M96.5 501.7v1.6M96.5 513.3v1.6M136.8 505.6h1.6M148.4 505.6h1.6M143.4 499.0v1.6M143.4 510.6v1.6M195.8 508.3h1.6M207.4 508.3h1.6M202.4 501.7v1.6M202.4 513.3v1.6M242.70000000000002 509.5h1.6M254.3 509.5h1.6M249.3 502.9v1.6M249.3 514.5v1.6M248.8 508.3h1.6M260.4 508.3h1.6M255.4 501.7v1.6M255.4 513.3v1.6M296.29999999999995 506.4h1.6M307.9 506.4h1.6M302.9 499.79999999999995v1.6M302.9 511.4v1.6M302.0 507.1h1.6M313.6 507.1h1.6M308.6 500.5v1.6M308.6 512.1v1.6M348.4 506.4h1.6M360 506.4h1.6M355 499.79999999999995v1.6M355 511.4v1.6M354.79999999999995 507.9h1.6M366.4 507.9h1.6M361.4 501.29999999999995v1.6M361.4 512.9v1.6M402.0 506.4h1.6M413.6 506.4h1.6M408.6 499.79999999999995v1.6M408.6 511.4v1.6M409.09999999999997 507.1h1.6M420.7 507.1h1.6M415.7 500.5v1.6M415.7 512.1v1.6M454.79999999999995 505.4h1.6M466.4 505.4h1.6M461.4 498.79999999999995v1.6M461.4 510.4v1.6M462.0 507.1h1.6M473.6 507.1h1.6M468.6 500.5v1.6M468.6 512.1v1.6M508.79999999999995 508.6h1.6M520.4 508.6h1.6M515.4 502.0v1.6M515.4 513.6v1.6M515.1 504.3h1.6M526.7 504.3h1.6M521.7 497.7v1.6M521.7 509.3v1.6M562.0 505.4h1.6M573.6 505.4h1.6M568.6 498.79999999999995v1.6M568.6 510.4v1.6M568.0 505.4h1.6M579.6 505.4h1.6M574.6 498.79999999999995v1.6M574.6 510.4v1.6M615.1 507.6h1.6M626.7 507.6h1.6M621.7 501.0v1.6M621.7 512.6v1.6M621.3 508.6h1.6M632.9 508.6h1.6M627.9 502.0v1.6M627.9 513.6v1.6M667.6999999999999 508.3h1.6M679.3 508.3h1.6M674.3 501.7v1.6M674.3 513.3v1.6M674.1 507.1h1.6M685.7 507.1h1.6M680.7 500.5v1.6M680.7 512.1v1.6M720.5 506.4h1.6M732.1 506.4h1.6M727.1 499.79999999999995v1.6M727.1 511.4v1.6M727.0 508.3h1.6M738.6 508.3h1.6M733.6 501.7v1.6M733.6 513.3v1.6M774.1 507.4h1.6M785.7 507.4h1.6M780.7 500.79999999999995v1.6M780.7 512.4v1.6M780.3 507.4h1.6M791.9 507.4h1.6M786.9 500.79999999999995v1.6M786.9 512.4v1.6M827.0 507.4h1.6M838.6 507.4h1.6M833.6 500.79999999999995v1.6M833.6 512.4v1.6M834.1 505.4h1.6M845.7 505.4h1.6M840.7 498.79999999999995v1.6M840.7 510.4v1.6M879.4 508.3h1.6M891 508.3h1.6M886 501.7v1.6M886 513.3v1.6M887.0 509.3h1.6M898.6 509.3h1.6M893.6 502.7v1.6M893.6 514.3v1.6M934.1 508.3h1.6M945.7 508.3h1.6M940.7 501.7v1.6M940.7 513.3v1.6M940.3 508.3h1.6M951.9 508.3h1.6M946.9 501.7v1.6M946.9 513.3v1.6M987.0 508.3h1.6M998.6 508.3h1.6M993.6 501.7v1.6M993.6 513.3v1.6M992.6999999999999 505.7h1.6M1004.3 505.7h1.6M999.3 499.09999999999997v1.6M999.3 510.7v1.6M1039.8000000000002 504.3h1.6M1051.4 504.3h1.6M1046.4 497.7v1.6M1046.4 509.3v1.6M1046.0 506.4h1.6M1057.6 506.4h1.6M1052.6 499.79999999999995v1.6M1052.6 511.4v1.6M1092.7 507.4h1.6M1104.3 507.4h1.6M1099.3 500.79999999999995v1.6M1099.3 512.4v1.6M1099.1000000000001 508.6h1.6M1110.7 508.6h1.6M1105.7 502.0v1.6M1105.7 513.6v1.6M1145.5 507.4h1.6M1157.1 507.4h1.6M1152.1 500.79999999999995v1.6M1152.1 512.4v1.6M1152.0 506.4h1.6M1163.6 506.4h1.6M1158.6 499.79999999999995v1.6M1158.6 511.4v1.6M1198.9 507.4h1.6M1210.5 507.4h1.6M1205.5 500.79999999999995v1.6M1205.5 512.4v1.6M1205.1000000000001 507.4h1.6M1216.7 507.4h1.6M1211.7 500.79999999999995v1.6M1211.7 512.4v1.6M1252.0 507.4h1.6M1263.6 507.4h1.6M1258.6 500.79999999999995v1.6M1258.6 512.4v1.6M1259.0 505.1h1.6M1270.6 505.1h1.6M1265.6 498.5v1.6M1265.6 510.1v1.6M1304.5 507.4h1.6M1316.1 507.4h1.6M1311.1 500.79999999999995v1.6M1311.1 512.4v1.6M1312.1000000000001 507.4h1.6M1323.7 507.4h1.6M1318.7 500.79999999999995v1.6M1318.7 512.4v1.6M1358.8000000000002 508.6h1.6M1370.4 508.6h1.6M1365.4 502.0v1.6M1365.4 513.6v1.6" stroke="#0072b2" fill="none"/>
<circle cx="96.5" cy="529.6" r="5.6" fill="#e51e10"/><circle cx="143.4" cy="531" r="5.6" fill="#e51e10"/><circle cx="202.4" cy="535" r="5.6" fill="#e51e10"/><circle cx="250" cy="534" r="5.6" fill="#e51e10"/><circle cx="256" cy="530" r="5.6" fill="#e51e10"/><circle cx="302.9" cy="534" r="5.6" fill="#e51e10"/><circle cx="308.6" cy="534" r="5.6" fill="#e51e10"/><circle cx="354.3" cy="532" r="5.6" fill="#e51e10"/><circle cx="361.4" cy="528.6" r="5.6" fill="#e51e10"/><circle cx="408.6" cy="534" r="5.6" fill="#e51e10"/><circle cx="415.7" cy="534" r="5.6" fill="#e51e10"/><circle cx="461.4" cy="505.4" r="5.6" fill="#e51e10"/><circle cx="468.3" cy="530" r="5.6" fill="#e51e10"/><circle cx="515.4" cy="534" r="5.6" fill="#e51e10"/><circle cx="521.7" cy="530.7" r="5.6" fill="#e51e10"/><circle cx="568.6" cy="530" r="5.6" fill="#e51e10"/><circle cx="574.3" cy="533.6" r="5.6" fill="#e51e10"/><circle cx="621.7" cy="528.3" r="5.6" fill="#e51e10"/><circle cx="627.9" cy="535" r="5.6" fill="#e51e10"/><circle cx="674.3" cy="528.6" r="5.6" fill="#e51e10"/><circle cx="680.7" cy="535" r="5.6" fill="#e51e10"/><circle cx="727.1" cy="533.6" r="5.6" fill="#e51e10"/><circle cx="733.6" cy="533.6" r="5.6" fill="#e51e10"/><circle cx="780.7" cy="533.6" r="5.6" fill="#e51e10"/><circle cx="786.9" cy="534.6" r="5.6" fill="#e51e10"/><circle cx="833.6" cy="534.6" r="5.6" fill="#e51e10"/><circle cx="840.7" cy="534.6" r="5.6" fill="#e51e10"/><circle cx="886.4" cy="534" r="5.6" fill="#e51e10"/><circle cx="893.6" cy="502.9" r="5.6" fill="#e51e10"/><circle cx="940.7" cy="534" r="5.6" fill="#e51e10"/><circle cx="946.9" cy="534" r="5.6" fill="#e51e10"/><circle cx="992.9" cy="533.1" r="5.6" fill="#e51e10"/><circle cx="999.3" cy="509.3" r="5.6" fill="#e51e10"/><circle cx="1046.4" cy="525.4" r="5.6" fill="#e51e10"/><circle cx="1052.6" cy="533.1" r="5.6" fill="#e51e10"/><circle cx="1100" cy="532.1" r="5.6" fill="#e51e10"/><circle cx="1105.4" cy="534.3" r="5.6" fill="#e51e10"/><circle cx="1152.9" cy="533.1" r="5.6" fill="#e51e10"/><circle cx="1158.6" cy="533.1" r="5.6" fill="#e51e10"/><circle cx="1205.5" cy="532.6" r="5.6" fill="#e51e10"/><circle cx="1211.7" cy="533.1" r="5.6" fill="#e51e10"/><circle cx="1258.6" cy="534.2" r="5.6" fill="#e51e10"/><circle cx="1265.6" cy="534.5" r="5.6" fill="#e51e10"/><circle cx="1311.1" cy="530.1" r="5.6" fill="#e51e10"/><circle cx="1318.7" cy="534.5" r="5.6" fill="#e51e10"/><circle cx="1365.4" cy="534.2" r="5.6" fill="#e51e10"/>
<path d="M89.9 529.6h1.6M101.5 529.6h1.6M96.5 523.0v1.6M96.5 534.6v1.6M136.8 531h1.6M148.4 531h1.6M143.4 524.4v1.6M143.4 536v1.6M195.8 535h1.6M207.4 535h1.6M202.4 528.4v1.6M202.4 540v1.6M243.4 534h1.6M255 534h1.6M250 527.4v1.6M250 539v1.6M249.4 530h1.6M261 530h1.6M256 523.4v1.6M256 535v1.6M296.29999999999995 534h1.6M307.9 534h1.6M302.9 527.4v1.6M302.9 539v1.6M302.0 534h1.6M313.6 534h1.6M308.6 527.4v1.6M308.6 539v1.6M347.7 532h1.6M359.3 532h1.6M354.3 525.4v1.6M354.3 537v1.6M354.79999999999995 528.6h1.6M366.4 528.6h1.6M361.4 522.0v1.6M361.4 533.6v1.6M402.0 534h1.6M413.6 534h1.6M408.6 527.4v1.6M408.6 539v1.6M409.09999999999997 534h1.6M420.7 534h1.6M415.7 527.4v1.6M415.7 539v1.6M454.79999999999995 505.4h1.6M466.4 505.4h1.6M461.4 498.79999999999995v1.6M461.4 510.4v1.6M461.7 530h1.6M473.3 530h1.6M468.3 523.4v1.6M468.3 535v1.6M508.79999999999995 534h1.6M520.4 534h1.6M515.4 527.4v1.6M515.4 539v1.6M515.1 530.7h1.6M526.7 530.7h1.6M521.7 524.1v1.6M521.7 535.7v1.6M562.0 530h1.6M573.6 530h1.6M568.6 523.4v1.6M568.6 535v1.6M567.6999999999999 533.6h1.6M579.3 533.6h1.6M574.3 527.0v1.6M574.3 538.6v1.6M615.1 528.3h1.6M626.7 528.3h1.6M621.7 521.6999999999999v1.6M621.7 533.3v1.6M621.3 535h1.6M632.9 535h1.6M627.9 528.4v1.6M627.9 540v1.6M667.6999999999999 528.6h1.6M679.3 528.6h1.6M674.3 522.0v1.6M674.3 533.6v1.6M674.1 535h1.6M685.7 535h1.6M680.7 528.4v1.6M680.7 540v1.6M720.5 533.6h1.6M732.1 533.6h1.6M727.1 527.0v1.6M727.1 538.6v1.6M727.0 533.6h1.6M738.6 533.6h1.6M733.6 527.0v1.6M733.6 538.6v1.6M774.1 533.6h1.6M785.7 533.6h1.6M780.7 527.0v1.6M780.7 538.6v1.6M780.3 534.6h1.6M791.9 534.6h1.6M786.9 528.0v1.6M786.9 539.6v1.6M827.0 534.6h1.6M838.6 534.6h1.6M833.6 528.0v1.6M833.6 539.6v1.6M834.1 534.6h1.6M845.7 534.6h1.6M840.7 528.0v1.6M840.7 539.6v1.6M879.8 534h1.6M891.4 534h1.6M886.4 527.4v1.6M886.4 539v1.6M887.0 502.9h1.6M898.6 502.9h1.6M893.6 496.29999999999995v1.6M893.6 507.9v1.6M934.1 534h1.6M945.7 534h1.6M940.7 527.4v1.6M940.7 539v1.6M940.3 534h1.6M951.9 534h1.6M946.9 527.4v1.6M946.9 539v1.6M986.3 533.1h1.6M997.9 533.1h1.6M992.9 526.5v1.6M992.9 538.1v1.6M992.6999999999999 509.3h1.6M1004.3 509.3h1.6M999.3 502.7v1.6M999.3 514.3v1.6M1039.8000000000002 525.4h1.6M1051.4 525.4h1.6M1046.4 518.8v1.6M1046.4 530.4v1.6M1046.0 533.1h1.6M1057.6 533.1h1.6M1052.6 526.5v1.6M1052.6 538.1v1.6M1093.4 532.1h1.6M1105 532.1h1.6M1100 525.5v1.6M1100 537.1v1.6M1098.8000000000002 534.3h1.6M1110.4 534.3h1.6M1105.4 527.6999999999999v1.6M1105.4 539.3v1.6M1146.3000000000002 533.1h1.6M1157.9 533.1h1.6M1152.9 526.5v1.6M1152.9 538.1v1.6M1152.0 533.1h1.6M1163.6 533.1h1.6M1158.6 526.5v1.6M1158.6 538.1v1.6M1198.9 532.6h1.6M1210.5 532.6h1.6M1205.5 526.0v1.6M1205.5 537.6v1.6M1205.1000000000001 533.1h1.6M1216.7 533.1h1.6M1211.7 526.5v1.6M1211.7 538.1v1.6M1252.0 534.2h1.6M1263.6 534.2h1.6M1258.6 527.6v1.6M1258.6 539.2v1.6M1259.0 534.5h1.6M1270.6 534.5h1.6M1265.6 527.9v1.6M1265.6 539.5v1.6M1304.5 530.1h1.6M1316.1 530.1h1.6M1311.1 523.5v1.6M1311.1 535.1v1.6M1312.1000000000001 534.5h1.6M1323.7 534.5h1.6M1318.7 527.9v1.6M1318.7 539.5v1.6M1358.8000000000002 534.2h1.6M1370.4 534.2h1.6M1365.4 527.6v1.6M1365.4 539.2v1.6" stroke="#e51e10" fill="none"/>
<path d="M92.5 468.5L100.5 456.5L108.5 468.5ZM102.1 468.5L110.1 456.5L118.1 468.5ZM111.4 468.5L119.4 456.5L127.4 468.5ZM120.5 468.5L128.5 456.5L136.5 468.5ZM129.6 468.5L137.6 456.5L145.6 468.5ZM1261.7 468.5L1269.7 456.5L1277.7 468.5ZM1271.1 468.5L1279.1 456.5L1287.1 468.5ZM1280.4 468.5L1288.4 456.5L1296.4 468.5ZM1288.8 468.5L1296.8 456.5L1304.8 468.5ZM1297.5 468.5L1305.5 456.5L1313.5 468.5ZM1314.5 468.5L1322.5 456.5L1330.5 468.5ZM1324.5 468.5L1332.5 456.5L1340.5 468.5ZM1333.4 468.5L1341.4 456.5L1349.4 468.5ZM1342.2 468.5L1350.2 456.5L1358.2 468.5ZM1350.7 468.5L1358.7 456.5L1366.7 468.5Z" stroke="#000" fill="none"/>
<path d="M86.0 349.6L155.9 349.6L147.6 362.8L94.3 362.8ZM192.89999999999998 349.6L1377.3 349.6L1369 362.8L201.2 362.8Z" fill="#e69f00"/>
<path d="M126 362h1v1h-1zM205 362h1v1h-1zM297 362h1v1h-1zM370 362h1v1h-1zM443 362h1v1h-1zM516 362h1v1h-1zM589 362h1v1h-1zM661 362h1v1h-1zM734 362h1v1h-1zM816 362h1v1h-1zM896 362h1v1h-1zM975 362h1v1h-1zM1050 362h1v1h-1zM1116 362h1v1h-1zM1183 362h1v1h-1zM1251 362h1v1h-1zM1329 362h1v1h-1z" fill="#fff"/>
<rect x="94.5" y="57.5" width="1275.0" height="482.0" fill="none" stroke="#000" stroke-width="1"/>
</g>
</svg>
</body></html>
